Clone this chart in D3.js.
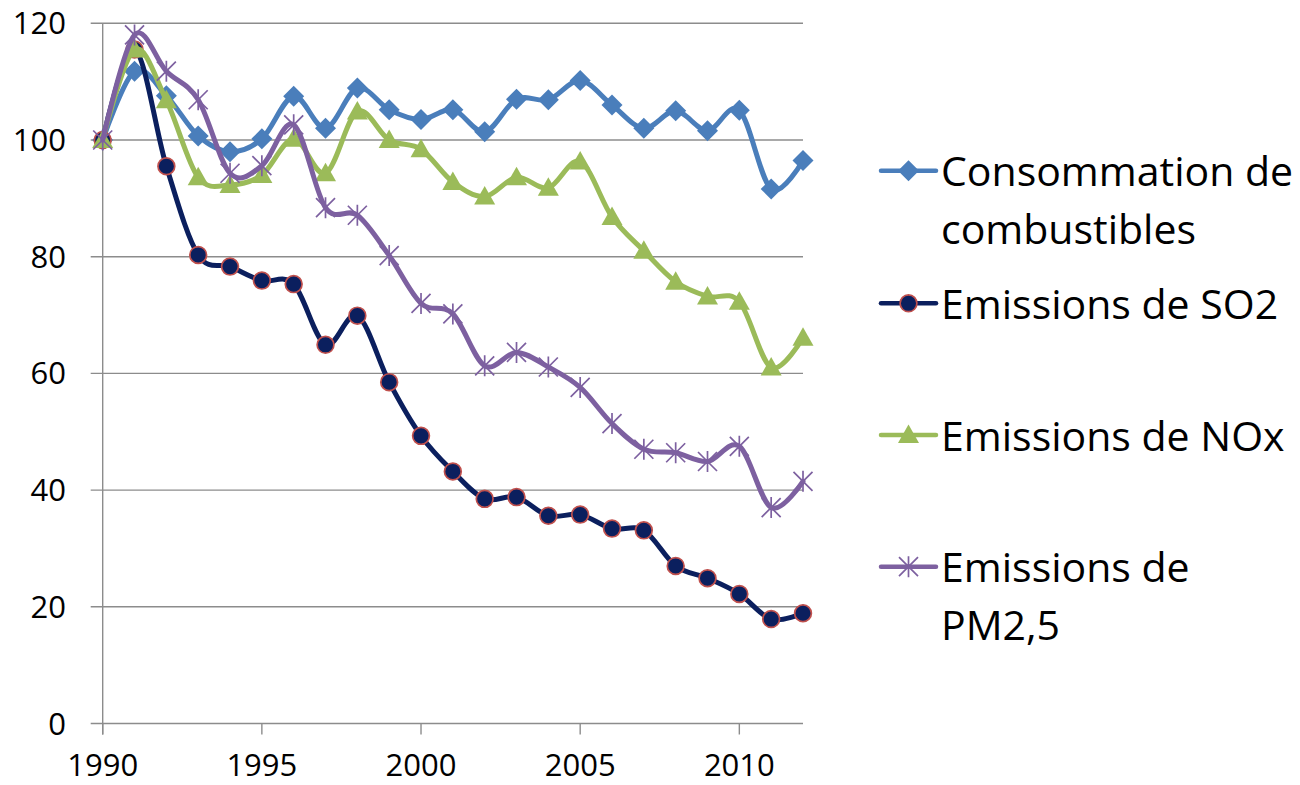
<!DOCTYPE html>
<html>
<head>
<meta charset="utf-8">
<script src="https://cdn.jsdelivr.net/npm/d3@7"></script>
<style>
  body { margin: 0; background: #fff; }
  text { font-family: "Open Sans", sans-serif; fill: #000; }
</style>
</head>
<body>
<svg width="1300" height="785"></svg>
<script>
var years = d3.range(1990, 2013);
var yTicks = [0, 20, 40, 60, 80, 100, 120];
var xTicks = [1990, 1995, 2000, 2005, 2010];

var consommation = [100, 111.8, 107.6, 100.7, 98.0, 100.2, 107.5, 102.0, 108.9, 105.2, 103.5,
  105.2, 101.4, 107.0, 106.9, 110.2, 106.0, 102.0, 105.0, 101.6, 105.1, 91.6, 96.5];
var so2 = [100, 115.5, 95.5, 80.3, 78.3, 75.9, 75.3, 64.9, 69.9, 58.5, 49.3,
  43.2, 38.5, 38.8, 35.6, 35.8, 33.4, 33.1, 27.0, 24.9, 22.2, 17.9, 18.9];
var nox = [100, 115.5, 106.8, 93.6, 92.3, 94.0, 100.2, 94.3, 104.9, 100.0, 98.4,
  92.8, 90.3, 93.6, 91.8, 96.3, 86.8, 81.0, 75.7, 73.2, 72.3, 61.0, 66.1];
var pm25 = [100, 118.0, 111.8, 106.9, 94.3, 95.6, 102.6, 88.4, 87.1, 80.2, 72.0,
  70.2, 61.3, 63.6, 61.1, 57.6, 51.4, 47.0, 46.4, 44.9, 47.5, 37.0, 41.5];

var seriesNames = [["Consommation de", "combustibles"], ["Emissions de SO2"], ["Emissions de NOx"], ["Emissions de", "PM2,5"]];
var seriesColors = ["#4a7ebb", "#0b1f5e", "#9bbb59", "#7d60a0"];
var seriesMarkers = ["diamond", "circle", "triangle", "star"];
var seriesValues = [consommation, so2, nox, pm25];

var svg = d3.select("svg");

var x = d3.scaleLinear().domain([1990, 2012]).range([102.7, 803]);
var y = d3.scaleLinear().domain([0, 120]).range([723.5, 23.3]);

// gridlines
svg.append("g").selectAll("line")
  .data(yTicks)
  .enter().append("line")
  .attr("x1", x(1990) - 12)
  .attr("x2", x(2012))
  .attr("y1", function(d) { return y(d); })
  .attr("y2", function(d) { return y(d); })
  .attr("stroke", "#8c8c8c")
  .attr("stroke-width", 1.4);

// y axis line
svg.append("line")
  .attr("x1", x(1990)).attr("x2", x(1990))
  .attr("y1", y(120)).attr("y2", y(0) + 11)
  .attr("stroke", "#8c8c8c").attr("stroke-width", 1.4);

// x ticks
svg.append("g").selectAll("line")
  .data(xTicks)
  .enter().append("line")
  .attr("x1", function(d) { return x(d); })
  .attr("x2", function(d) { return x(d); })
  .attr("y1", y(0))
  .attr("y2", y(0) + 11)
  .attr("stroke", "#8c8c8c")
  .attr("stroke-width", 1.4);

svg.append("g").selectAll("text")
  .data(yTicks)
  .enter().append("text")
  .attr("x", 66)
  .attr("y", function(d) { return y(d) + 11; })
  .attr("text-anchor", "end")
  .style("font-size", "31px")
  .text(function(d) { return d; });

svg.append("g").selectAll("text")
  .data(xTicks)
  .enter().append("text")
  .attr("x", function(d) { return x(d); })
  .attr("y", 776)
  .attr("text-anchor", "middle")
  .style("font-size", "31px")
  .text(function(d) { return d; });

var line = d3.line()
  .x(function(d, i) { return x(years[i]); })
  .y(function(d) { return y(d); })
  .curve(d3.curveCardinal.tension(0));

function drawMarker(g, type, color, cx, cy) {
  if (type == "diamond") {
    var r = 10.5;
    g.append("path")
      .attr("d", "M" + cx + "," + (cy - r) + "L" + (cx + r) + "," + cy + "L" + cx + "," + (cy + r) + "L" + (cx - r) + "," + cy + "Z")
      .attr("fill", color);
  } else if (type == "circle") {
    g.append("circle")
      .attr("cx", cx).attr("cy", cy).attr("r", 8.4)
      .attr("fill", color)
      .attr("stroke", "#c0504d").attr("stroke-width", 1.7);
  } else if (type == "triangle") {
    g.append("path")
      .attr("d", "M" + cx + "," + (cy - 10.5) + "L" + (cx + 10.5) + "," + (cy + 8) + "L" + (cx - 10.5) + "," + (cy + 8) + "Z")
      .attr("fill", color);
  } else {
    var s = 9.5;
    g.append("path")
      .attr("d", "M" + (cx - s) + "," + (cy - s) + "L" + (cx + s) + "," + (cy + s) +
        "M" + (cx - s) + "," + (cy + s) + "L" + (cx + s) + "," + (cy - s) +
        "M" + cx + "," + (cy - s - 1) + "L" + cx + "," + (cy + s + 1))
      .attr("stroke", color).attr("stroke-width", 1.7).attr("fill", "none");
  }
}

seriesValues.forEach(function(vals, k) {
  var g = svg.append("g");
  g.append("path")
    .attr("d", line(vals))
    .attr("fill", "none")
    .attr("stroke", seriesColors[k])
    .attr("stroke-width", 5)
    .attr("stroke-linejoin", "round")
    .attr("stroke-linecap", "round");
  vals.forEach(function(v, i) {
    drawMarker(g, seriesMarkers[k], seriesColors[k], x(years[i]), y(v));
  });
});

// legend
var legendY = [170.7, 303.3, 435, 566.7];
seriesNames.forEach(function(name, k) {
  var g = svg.append("g");
  g.append("line")
    .attr("x1", 881).attr("x2", 936)
    .attr("y1", legendY[k]).attr("y2", legendY[k])
    .attr("stroke", seriesColors[k]).attr("stroke-width", 4.5)
    .attr("stroke-linecap", "round");
  drawMarker(g, seriesMarkers[k], seriesColors[k], 908.5, legendY[k]);
  name.forEach(function(t, j) {
    g.append("text")
      .attr("x", 941)
      .attr("y", legendY[k] + 15.5 + j * 58)
      .style("font-size", "41px")
      .text(t);
  });
});
</script>
</body>
</html>
